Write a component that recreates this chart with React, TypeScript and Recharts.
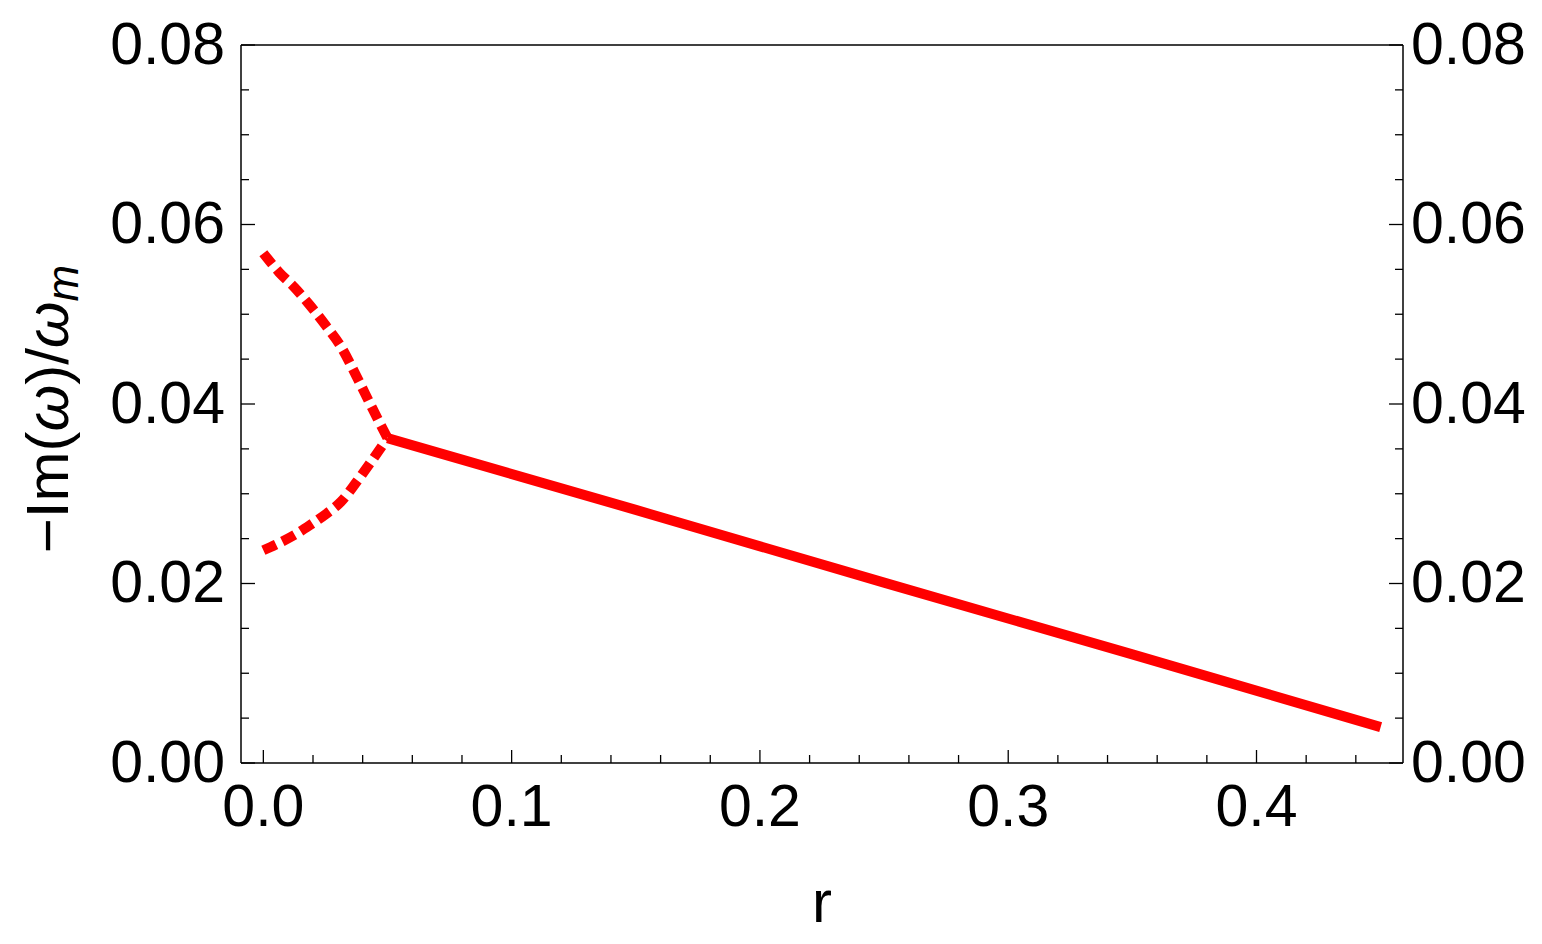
import React from 'react';
import { ComposedChart, Line, XAxis, YAxis, ReferenceLine } from 'recharts';

// upper branch of the split (dashed), r < 0.05
const upperBranch = [
  { r: 0.0, v: 0.0568 },
  { r: 0.00625, v: 0.0547 },
  { r: 0.0125, v: 0.053 },
  { r: 0.01875, v: 0.051 },
  { r: 0.025, v: 0.0488 },
  { r: 0.03125, v: 0.0464 },
  { r: 0.0375, v: 0.0431 },
  { r: 0.04375, v: 0.0396 },
  { r: 0.05, v: 0.0362 },
];

// lower branch (dashed)
const lowerBranch = [
  { r: 0.0, v: 0.0237 },
  { r: 0.00625, v: 0.0245 },
  { r: 0.0125, v: 0.0254 },
  { r: 0.01875, v: 0.0265 },
  { r: 0.025, v: 0.0277 },
  { r: 0.03125, v: 0.0291 },
  { r: 0.0375, v: 0.0313 },
  { r: 0.04375, v: 0.0337 },
  { r: 0.05, v: 0.0362 },
];

// merged mode (solid), r >= 0.05
const mergedBranch = [
  { r: 0.05, v: 0.0362 },
  { r: 0.15, v: 0.0282 },
  { r: 0.25, v: 0.0201 },
  { r: 0.35, v: 0.0121 },
  { r: 0.45, v: 0.004 },
];

const xMajorTicks = [0, 0.1, 0.2, 0.3, 0.4];
const xMinorTicks = [
  0.02, 0.04, 0.06, 0.08, 0.12, 0.14, 0.16, 0.18, 0.22, 0.24, 0.26, 0.28,
  0.32, 0.34, 0.36, 0.38, 0.42, 0.44,
];
const yMajorTicks = [0, 0.02, 0.04, 0.06, 0.08];
const yMinorTicks = [
  0.005, 0.01, 0.015, 0.025, 0.03, 0.035, 0.045, 0.05, 0.055, 0.065, 0.07, 0.075,
];

const FONT = '"Liberation Sans", Arial, sans-serif';
const RED = '#ff0000';

const isMajor = (v: number, list: number[]) => list.some((m) => Math.abs(m - v) < 1e-9);

const BottomTick = (props: any) => {
  const { x, y, payload } = props;
  const major = isMajor(payload.value, xMajorTicks);
  return (
    <g>
      <line x1={x} x2={x} y1={y} y2={y - (major ? 13 : 8)} stroke="#000" strokeWidth={1.3} />
      {major && (
        <text x={x} y={y + 63} textAnchor="middle" fontSize={59} fontFamily={FONT} fill="#000">
          {payload.value.toFixed(1)}
        </text>
      )}
    </g>
  );
};

const LeftTick = (props: any) => {
  const { x, y, payload } = props;
  const major = isMajor(payload.value, yMajorTicks);
  return (
    <g>
      <line x1={x} x2={x + (major ? 14 : 8)} y1={y} y2={y} stroke="#000" strokeWidth={1.3} />
      {major && (
        <text x={x - 16} y={y + 18.5} textAnchor="end" fontSize={59} fontFamily={FONT} fill="#000">
          {payload.value.toFixed(2)}
        </text>
      )}
    </g>
  );
};

const RightTick = (props: any) => {
  const { x, y, payload } = props;
  const major = isMajor(payload.value, yMajorTicks);
  return (
    <g>
      <line x1={x} x2={x - (major ? 14 : 8)} y1={y} y2={y} stroke="#000" strokeWidth={1.3} />
      {major && (
        <text x={x + 8} y={y + 18.5} textAnchor="start" fontSize={59} fontFamily={FONT} fill="#000">
          {payload.value.toFixed(2)}
        </text>
      )}
    </g>
  );
};

const YLabel = (props: any) => {
  const vb = props.viewBox || { x: 0, y: 45, width: 241, height: 718 };
  const cx = 68;
  const cy = vb.y + vb.height / 2 + 5;
  return (
    <text
      x={cx}
      y={cy}
      transform={`rotate(-90, ${cx}, ${cy})`}
      textAnchor="middle"
      fontSize={60}
      fontFamily={FONT}
      fill="#000"
    >
      <tspan>−Im(</tspan>
      <tspan fontStyle="italic">ω</tspan>
      <tspan>)/</tspan>
      <tspan fontStyle="italic">ω</tspan>
      <tspan fontStyle="italic" fontSize={44} dy={10}>m</tspan>
    </text>
  );
};

const XLabel = (props: any) => {
  const vb = props.viewBox || { x: 241, y: 763, width: 1162, height: 181 };
  return (
    <text
      x={vb.x + vb.width / 2}
      y={vb.y + 159}
      textAnchor="middle"
      fontSize={60}
      fontFamily={FONT}
      fill="#000"
    >
      r
    </text>
  );
};

export default function App() {
  return (
    <div style={{ position: 'absolute', left: 0, top: 0, background: '#fff' }}>
      <ComposedChart
        width={1542}
        height={944}
        margin={{ top: 45, right: 0, bottom: 0, left: 0 }}
      >
        <XAxis
          xAxisId="main"
          dataKey="r"
          type="number"
          domain={[-0.009, 0.459]}
          allowDataOverflow
          ticks={[...xMajorTicks, ...xMinorTicks].sort((a, b) => a - b)}
          interval={0}
          tickSize={0}
          tickMargin={0}
          tickLine={false}
          tick={<BottomTick />}
          height={181}
          axisLine={{ stroke: '#000', strokeWidth: 1.5 }}
          label={<XLabel />}
        />
        <YAxis
          yAxisId="left"
          type="number"
          domain={[0, 0.08]}
          allowDataOverflow
          ticks={[...yMajorTicks, ...yMinorTicks].sort((a, b) => a - b)}
          interval={0}
          tickSize={0}
          tickMargin={0}
          tickLine={false}
          tick={<LeftTick />}
          width={241}
          axisLine={{ stroke: '#000', strokeWidth: 1.5 }}
          label={<YLabel />}
        />
        <YAxis
          yAxisId="right"
          orientation="right"
          type="number"
          domain={[0, 0.08]}
          allowDataOverflow
          ticks={[...yMajorTicks, ...yMinorTicks].sort((a, b) => a - b)}
          interval={0}
          tickSize={0}
          tickMargin={0}
          tickLine={false}
          tick={<RightTick />}
          width={139}
          axisLine={{ stroke: '#000', strokeWidth: 1.5 }}
        />
        {/* top edge of the frame */}
        <ReferenceLine
          xAxisId="main"
          yAxisId="left"
          y={0.08}
          stroke="#000"
          strokeWidth={1.5}
          ifOverflow="visible"
        />
        <Line
          xAxisId="main"
          yAxisId="left"
          data={upperBranch}
          dataKey="v"
          type="monotone"
          stroke={RED}
          strokeWidth={10}
          strokeDasharray="14 7"
          strokeLinecap="butt"
          dot={false}
          activeDot={false}
          isAnimationActive={false}
        />
        <Line
          xAxisId="main"
          yAxisId="left"
          data={lowerBranch}
          dataKey="v"
          type="monotone"
          stroke={RED}
          strokeWidth={10}
          strokeDasharray="14 7"
          strokeLinecap="butt"
          dot={false}
          activeDot={false}
          isAnimationActive={false}
        />
        <Line
          xAxisId="main"
          yAxisId="left"
          data={mergedBranch}
          dataKey="v"
          type="linear"
          stroke={RED}
          strokeWidth={10}
          dot={false}
          activeDot={false}
          isAnimationActive={false}
        />
      </ComposedChart>
    </div>
  );
}
